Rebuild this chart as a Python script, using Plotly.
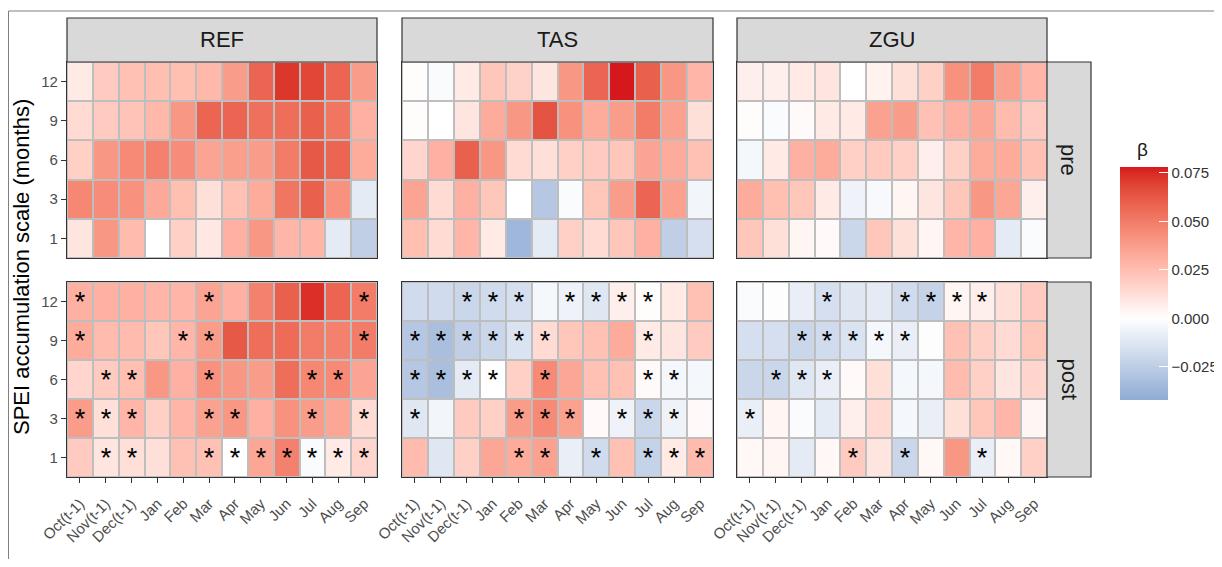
import plotly.graph_objects as go

# ---------------- data ----------------
months = ["Oct(t-1)", "Nov(t-1)", "Dec(t-1)", "Jan", "Feb", "Mar",
          "Apr", "May", "Jun", "Jul", "Aug", "Sep"]
row_scales = ["12", "9", "6", "3", "1"]          # row order of the value lists below (top -> bottom)
scale_order = ["1", "3", "6", "9", "12"]         # axis order (bottom -> top)
sites = ["REF", "TAS", "ZGU"]
periods = ["pre", "post"]

ref_pre = [
    [0.008, 0.020, 0.024, 0.025, 0.025, 0.027, 0.038, 0.058, 0.072, 0.068, 0.058, 0.038],
    [0.014, 0.020, 0.023, 0.027, 0.040, 0.058, 0.058, 0.054, 0.055, 0.060, 0.052, 0.030],
    [0.018, 0.040, 0.045, 0.048, 0.044, 0.035, 0.037, 0.038, 0.050, 0.062, 0.058, 0.032],
    [0.046, 0.044, 0.042, 0.033, 0.025, 0.012, 0.024, 0.032, 0.052, 0.060, 0.042, -0.010],
    [0.010, 0.040, 0.026, 0.000, 0.018, 0.009, 0.030, 0.040, 0.028, 0.028, -0.010, -0.024],
]
tas_pre = [
    [0.001, -0.002, 0.008, 0.022, 0.017, 0.010, 0.040, 0.058, 0.078, 0.060, 0.040, 0.028],
    [0.001, 0.000, 0.010, 0.032, 0.040, 0.064, 0.042, 0.032, 0.038, 0.050, 0.036, 0.012],
    [0.016, 0.030, 0.060, 0.040, 0.014, 0.012, 0.018, 0.020, 0.022, 0.035, 0.032, 0.024],
    [0.035, 0.014, 0.030, 0.022, 0.000, -0.028, -0.002, 0.022, 0.038, 0.058, 0.036, -0.005],
    [0.025, 0.014, 0.028, 0.008, -0.036, -0.010, 0.018, 0.014, 0.022, 0.030, -0.024, -0.016],
]
zgu_pre = [
    [0.006, 0.006, 0.008, 0.010, 0.000, 0.005, 0.012, 0.018, 0.042, 0.050, 0.036, 0.028],
    [0.001, -0.002, 0.002, 0.008, 0.008, 0.036, 0.038, 0.024, 0.030, 0.034, 0.026, 0.020],
    [-0.004, 0.008, 0.030, 0.032, 0.018, 0.020, 0.018, 0.006, 0.018, 0.032, 0.032, 0.024],
    [0.032, 0.025, 0.022, 0.008, -0.006, -0.003, 0.004, 0.010, 0.022, 0.040, 0.034, 0.006],
    [0.022, 0.012, 0.004, 0.002, -0.020, 0.022, 0.012, 0.004, 0.028, 0.030, -0.010, -0.002],
]
ref_post = [
    [0.030, 0.030, 0.030, 0.028, 0.028, 0.035, 0.030, 0.048, 0.060, 0.074, 0.058, 0.050],
    [0.032, 0.026, 0.026, 0.022, 0.028, 0.038, 0.062, 0.055, 0.056, 0.050, 0.048, 0.050],
    [0.016, 0.020, 0.025, 0.040, 0.030, 0.042, 0.040, 0.038, 0.055, 0.046, 0.045, 0.035],
    [0.038, 0.012, 0.028, 0.018, 0.028, 0.036, 0.040, 0.030, 0.042, 0.038, 0.034, 0.014],
    [0.020, 0.010, 0.012, 0.012, 0.024, 0.024, 0.000, 0.034, 0.048, -0.002, 0.008, 0.016],
]
tas_post = [
    [-0.018, -0.018, -0.020, -0.018, -0.016, -0.004, -0.006, -0.012, 0.006, 0.001, 0.008, 0.024],
    [-0.028, -0.032, -0.024, -0.020, -0.014, 0.014, 0.022, 0.024, 0.032, 0.008, 0.010, 0.020],
    [-0.028, -0.032, -0.010, 0.000, 0.018, 0.045, 0.034, 0.024, 0.024, 0.002, -0.004, -0.004],
    [-0.012, -0.005, 0.020, 0.018, 0.038, 0.045, 0.036, 0.002, -0.006, -0.020, -0.006, 0.002],
    [0.026, -0.012, 0.018, 0.034, 0.032, 0.036, -0.008, -0.018, 0.024, -0.022, 0.008, 0.026],
]
zgu_post = [
    [-0.002, -0.001, -0.008, -0.016, -0.012, -0.010, -0.018, -0.022, 0.004, 0.006, 0.012, 0.020],
    [-0.016, -0.016, -0.020, -0.018, -0.014, -0.004, -0.008, -0.001, 0.024, 0.018, 0.014, 0.022],
    [-0.020, -0.020, -0.012, -0.008, 0.002, 0.012, -0.004, -0.004, 0.026, 0.018, 0.010, 0.016],
    [-0.008, 0.004, -0.002, -0.010, 0.006, 0.014, -0.004, -0.008, 0.012, 0.022, 0.028, 0.004],
    [0.003, 0.004, -0.010, 0.003, 0.020, 0.010, -0.020, 0.003, 0.040, -0.008, 0.003, 0.018],
]

# significance flags (1 = asterisk), same row order
ref_post_sig = [
    [1, 0, 0, 0, 0, 1, 0, 0, 0, 0, 0, 1],
    [1, 0, 0, 0, 1, 1, 0, 0, 0, 0, 0, 1],
    [0, 1, 1, 0, 0, 1, 0, 0, 0, 1, 1, 0],
    [1, 1, 1, 0, 0, 1, 1, 0, 0, 1, 0, 1],
    [0, 1, 1, 0, 0, 1, 1, 1, 1, 1, 1, 1],
]
tas_post_sig = [
    [0, 0, 1, 1, 1, 0, 1, 1, 1, 1, 0, 0],
    [1, 1, 1, 1, 1, 1, 0, 0, 0, 1, 0, 0],
    [1, 1, 1, 1, 0, 1, 0, 0, 0, 1, 1, 0],
    [1, 0, 0, 0, 1, 1, 1, 0, 1, 1, 1, 0],
    [0, 0, 0, 0, 1, 1, 0, 1, 0, 1, 1, 1],
]
zgu_post_sig = [
    [0, 0, 0, 1, 0, 0, 1, 1, 1, 1, 0, 0],
    [0, 0, 1, 1, 1, 1, 1, 0, 0, 0, 0, 0],
    [0, 1, 1, 1, 0, 0, 0, 0, 0, 0, 0, 0],
    [1, 0, 0, 0, 0, 0, 0, 0, 0, 0, 0, 0],
    [0, 0, 0, 0, 1, 0, 1, 0, 0, 1, 0, 0],
]
no_sig = [[0] * 12 for _ in range(5)]

values = {("pre", "REF"): ref_pre, ("pre", "TAS"): tas_pre, ("pre", "ZGU"): zgu_pre,
          ("post", "REF"): ref_post, ("post", "TAS"): tas_post, ("post", "ZGU"): zgu_post}
signif = {("pre", "REF"): no_sig, ("pre", "TAS"): no_sig, ("pre", "ZGU"): no_sig,
          ("post", "REF"): ref_post_sig, ("post", "TAS"): tas_post_sig, ("post", "ZGU"): zgu_post_sig}

# colour scale limits (legend range)
zmin, zmax = -0.042, 0.078
cbar_ticks = [-0.025, 0.0, 0.025, 0.05, 0.075]

# ---------------- colour scale (Lab interpolation, like ggplot gradient2) ----------------
def _lin(c):
    c = c / 255.0
    return c / 12.92 if c <= 0.04045 else ((c + 0.055) / 1.055) ** 2.4

def _gam(c):
    c = min(1.0, max(0.0, c))
    c = 12.92 * c if c <= 0.0031308 else 1.055 * c ** (1 / 2.4) - 0.055
    return int(round(min(1.0, max(0.0, c)) * 255))

def rgb2lab(rgb):
    r, g, b = [_lin(v) for v in rgb]
    X = (0.4124 * r + 0.3576 * g + 0.1805 * b) / 0.95047
    Y = 0.2126 * r + 0.7152 * g + 0.0722 * b
    Z = (0.0193 * r + 0.1192 * g + 0.9505 * b) / 1.08883
    f = lambda t: t ** (1 / 3) if t > 0.008856 else 7.787 * t + 16 / 116
    fx, fy, fz = f(X), f(Y), f(Z)
    return (116 * fy - 16, 500 * (fx - fy), 200 * (fy - fz))

def lab2rgb(lab):
    L, a, b = lab
    fy = (L + 16) / 116
    fx = fy + a / 500
    fz = fy - b / 200
    finv = lambda t: t ** 3 if t ** 3 > 0.008856 else (t - 16 / 116) / 7.787
    X = finv(fx) * 0.95047
    Y = finv(fy)
    Z = finv(fz) * 1.08883
    r = 3.2406 * X - 1.5372 * Y - 0.4986 * Z
    g = -0.9689 * X + 1.8758 * Y + 0.0415 * Z
    bb = 0.0557 * X - 0.2040 * Y + 1.0570 * Z
    return tuple(_gam(v) for v in (r, g, bb))

HIGH = (214, 24, 28)
LOW_END = (143, 172, 212)
WHITE = (255, 255, 255)
lab_w, lab_h, lab_l = rgb2lab(WHITE), rgb2lab(HIGH), rgb2lab(LOW_END)

def mix(l1, l2, t):
    return tuple(l1[i] + (l2[i] - l1[i]) * t for i in range(3))

colorscale = []
N = 60
for i in range(N + 1):
    s = i / N
    v = zmin + s * (zmax - zmin)
    if v >= 0:
        rgb = lab2rgb(mix(lab_w, lab_h, v / zmax))
    else:
        rgb = lab2rgb(mix(lab_w, lab_l, v / zmin))
    colorscale.append([s, "rgb(%d,%d,%d)" % rgb])

# ---------------- layout geometry (pixels of the 1222x567 page) ----------------
OFF = 8                       # default page (body) margin
W, H = 1222 - OFF, 567 - 2 * OFF
col_px = [(67, 377), (402, 713), (737, 1047)]
row_px = [(62, 258), (282, 477)]
strip_top = (18, 62)
strip_right = (1047, 1091)

def PX(x):
    return (x - OFF) / W

def PY(y):
    return 1 - (y - OFF) / H

FONT = "Liberation Sans, Arial, sans-serif"
fig = go.Figure()
layout_axes = {}
shapes = []
annotations = []

for r, period in enumerate(periods):
    for c, site in enumerate(sites):
        k = r * 3 + c + 1
        xa = "x" if k == 1 else "x%d" % k
        ya = "y" if k == 1 else "y%d" % k
        z = values[(period, site)][::-1]
        sig = signif[(period, site)][::-1]
        txt = [["*" if s else "" for s in row] for row in sig]
        fig.add_trace(go.Heatmap(
            z=z, x=months, y=row_scales[::-1], text=txt,
            texttemplate="%{text}",
            textfont=dict(size=27, color="black", family=FONT),
            coloraxis="coloraxis", xgap=2, ygap=2,
            xaxis=xa, yaxis=ya, hoverinfo="skip"))
        x0, x1 = col_px[c]
        y0, y1 = row_px[r]
        xkey = "xaxis" if k == 1 else "xaxis%d" % k
        ykey = "yaxis" if k == 1 else "yaxis%d" % k
        bottom = (r == 1)
        left = (c == 0)
        layout_axes[xkey] = dict(
            domain=[PX(x0), PX(x1)], anchor=ya, type="category", automargin=False,
            categoryorder="array", categoryarray=months,
            range=[-0.5, 11.5], showgrid=False, zeroline=False,
            showline=True, mirror=True, linecolor="#333333", linewidth=1.2,
            ticks="outside" if bottom else "", ticklen=5, tickwidth=1.2,
            tickcolor="#333333", showticklabels=bottom, tickangle=-45,
            ticklabelstandoff=6,
            tickfont=dict(size=15, color="#4D4D4D", family=FONT))
        layout_axes[ykey] = dict(
            domain=[PY(y1), PY(y0)], anchor=xa, type="category", automargin=False,
            categoryorder="array", categoryarray=scale_order,
            range=[-0.5, 4.5], showgrid=False, zeroline=False,
            showline=True, mirror=True, linecolor="#333333", linewidth=1.2,
            ticks="outside" if left else "", ticklen=5, tickwidth=1.2,
            tickcolor="#333333", showticklabels=left,
            tickfont=dict(size=15, color="#4D4D4D", family=FONT))

# strips on top
for c, site in enumerate(sites):
    x0, x1 = col_px[c]
    shapes.append(dict(type="rect", xref="paper", yref="paper",
                       x0=PX(x0), x1=PX(x1), y0=PY(strip_top[1]), y1=PY(strip_top[0]),
                       fillcolor="#D9D9D9", line=dict(color="#333333", width=1.2)))
    annotations.append(dict(text=site, xref="paper", yref="paper",
                            x=PX((x0 + x1) / 2), y=PY(sum(strip_top) / 2),
                            showarrow=False, font=dict(size=22, color="#1A1A1A", family=FONT),
                            xanchor="center", yanchor="middle"))
# strips on right
for r, period in enumerate(periods):
    y0, y1 = row_px[r]
    shapes.append(dict(type="rect", xref="paper", yref="paper",
                       x0=PX(strip_right[0]), x1=PX(strip_right[1]), y0=PY(y1), y1=PY(y0),
                       fillcolor="#D9D9D9", line=dict(color="#333333", width=1.2)))
    annotations.append(dict(text=period, xref="paper", yref="paper",
                            x=PX(sum(strip_right) / 2), y=PY((y0 + y1) / 2),
                            showarrow=False, textangle=90,
                            font=dict(size=22, color="#1A1A1A", family=FONT),
                            xanchor="center", yanchor="middle"))

# outer frame
shapes.append(dict(type="rect", xref="paper", yref="paper",
                   x0=PX(8.5), x1=1.05, y0=-0.05, y1=PY(11),
                   line=dict(color="#808080", width=1), fillcolor="rgba(0,0,0,0)"))

# y axis title
annotations.append(dict(text="SPEI accumulation scale (months)", xref="paper", yref="paper",
                        x=PX(21), y=PY(267),
                        showarrow=False, textangle=-90,
                        font=dict(size=22, color="#000000", family=FONT),
                        xanchor="center", yanchor="middle"))
# legend title
annotations.append(dict(text="β", xref="paper", yref="paper",
                        x=PX(1142), y=PY(149), showarrow=False,
                        font=dict(size=19, color="#1A1A1A", family=FONT),
                        xanchor="center", yanchor="middle"))

fig.update_layout(
    width=W, height=H,
    margin=dict(l=0, r=0, t=0, b=0, autoexpand=False),
    paper_bgcolor="white", plot_bgcolor="#BEBEBE",
    font=dict(family=FONT),
    shapes=shapes, annotations=annotations,
    coloraxis=dict(
        colorscale=colorscale, cmin=zmin, cmax=zmax,
        colorbar=dict(
            x=PX(1120), xanchor="left", xref="container",
            y=PY(283.5), yanchor="middle", yref="container",
            len=233, lenmode="pixels", thickness=48, thicknessmode="pixels",
            xpad=0, ypad=0, outlinewidth=0,
            tickvals=cbar_ticks, tickformat=".3f",
            ticks="inside", ticklen=9, tickwidth=1, tickcolor="white",
            tickfont=dict(size=15, color="#333333", family=FONT))),
    showlegend=False,
    **layout_axes)

fig.write_html("out.html")
